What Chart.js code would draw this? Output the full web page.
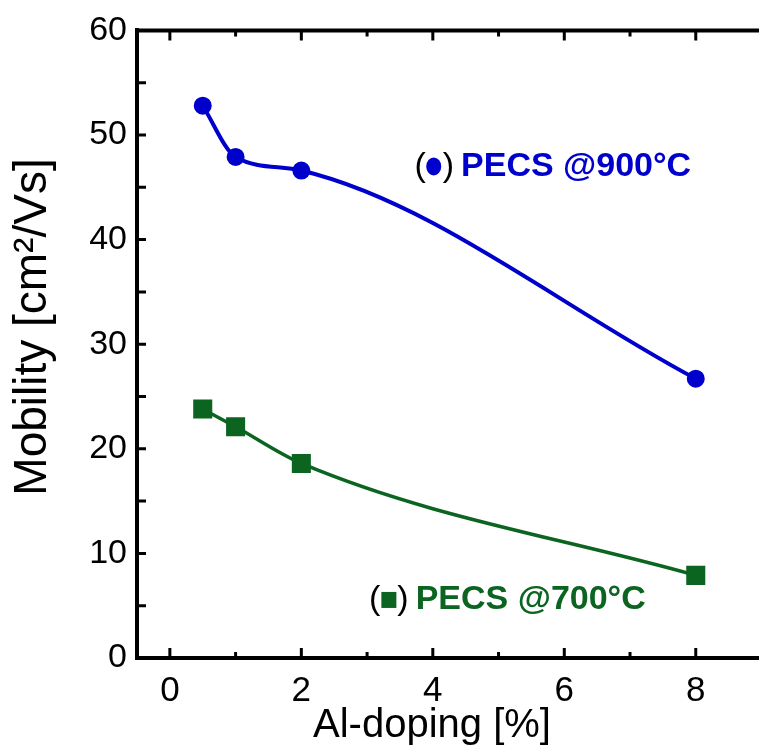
<!DOCTYPE html>
<html>
<head>
<meta charset="utf-8">
<script src="https://cdn.jsdelivr.net/npm/chart.js@4.4.1/dist/chart.umd.min.js"></script>
<style>
  html, body { margin: 0; padding: 0; background: #fff; overflow: hidden; }
  canvas { display: block; }
</style>
</head>
<body>
<canvas id="mobChart" width="776" height="755"></canvas>
<script>
// Al-doping [%]
var doping = [0.5, 1, 2, 8];
// mobility values
var pecs900 = [52.8, 47.9, 46.6, 26.7];
var pecs700 = [23.8, 22.1, 18.6, 7.9];
var xTickLabels = [0, 2, 4, 6, 8];
var yTickLabels = [0, 10, 20, 30, 40, 50, 60];

var blue = '#0000cc';
var green = '#0b6420';
var fontFam = '"Liberation Sans", Arial, sans-serif';

function toPoints(xs, ys) {
  return xs.map(function (v, i) { return { x: v, y: ys[i] }; });
}

// inward ticks + top frame line
var frameTicks = {
  id: 'frameTicks',
  afterDraw: function (chart) {
    var ctx = chart.ctx, a = chart.chartArea, sx = chart.scales.x, sy = chart.scales.y;
    ctx.save();
    ctx.strokeStyle = '#000';
    ctx.lineWidth = 4;
    ctx.beginPath();
    ctx.moveTo(a.left - 2, a.top);
    ctx.lineTo(a.right + 2, a.top);
    ctx.stroke();
    ctx.lineWidth = 3;
    ctx.beginPath();
    sx.ticks.forEach(function (t) {
      if (t.value <= sx.min || t.value >= sx.max) return;
      var px = sx.getPixelForValue(t.value);
      var len = t.value % 2 === 0 ? 10 : 6;
      ctx.moveTo(px, a.bottom); ctx.lineTo(px, a.bottom - len);
      ctx.moveTo(px, a.top); ctx.lineTo(px, a.top + len);
    });
    sy.ticks.forEach(function (t) {
      if (t.value <= sy.min || t.value >= sy.max) return;
      var py = sy.getPixelForValue(t.value);
      ctx.moveTo(a.left, py); ctx.lineTo(a.left + 9, py);
    });
    ctx.stroke();

    // axis titles (placed like the original figure, not centred on the axes)
    ctx.fillStyle = '#000';
    ctx.textAlign = 'center';
    ctx.textBaseline = 'alphabetic';
    ctx.font = '40px ' + fontFam;
    ctx.fillText('Al-doping [%]', 432, 737);
    ctx.translate(46, 327);
    ctx.rotate(-Math.PI / 2);
    ctx.font = '46px ' + fontFam;
    ctx.fillText('Mobility [cm²/Vs]', 0, 0);
    ctx.restore();
  }
};

// "(marker) PECS @...°C" labels inside the plot
var seriesLabels = {
  id: 'seriesLabels',
  afterDatasetsDraw: function (chart) {
    var ctx = chart.ctx, sx = chart.scales.x, sy = chart.scales.y;
    var items = [
      { x: 3.72, y: 47.0, text: 'PECS @900°C', color: blue, shape: 'circle' },
      { x: 3.03, y: 5.55, text: 'PECS @700°C', color: green, shape: 'rect' }
    ];
    ctx.save();
    ctx.textBaseline = 'middle';
    items.forEach(function (it) {
      var px = sx.getPixelForValue(it.x);
      var py = sy.getPixelForValue(it.y);
      ctx.fillStyle = '#000';
      ctx.font = '34px ' + fontFam;
      ctx.fillText('(', px, py);
      var w = ctx.measureText('(').width;
      ctx.fillStyle = it.color;
      if (it.shape === 'circle') {
        ctx.beginPath();
        ctx.ellipse(px + w + 8, py, 7.5, 9, 0, 0, Math.PI * 2);
        ctx.fill();
      } else {
        ctx.fillRect(px + w + 1, py - 8, 15, 16);
      }
      ctx.fillStyle = '#000';
      ctx.fillText(')', px + w + 17, py);
      ctx.fillStyle = it.color;
      ctx.font = 'bold 34px ' + fontFam;
      ctx.fillText(it.text, px + 2 * w + 24, py);
    });
    ctx.restore();
  }
};

new Chart(document.getElementById('mobChart').getContext('2d'), {
  type: 'line',
  data: {
    datasets: [
      {
        label: 'PECS @900°C',
        data: toPoints(doping, pecs900),
        borderColor: blue,
        backgroundColor: blue,
        borderWidth: 4,
        pointRadius: 7,
        pointStyle: 'circle',
        cubicInterpolationMode: 'monotone',
        fill: false
      },
      {
        label: 'PECS @700°C',
        data: toPoints(doping, pecs700),
        borderColor: green,
        backgroundColor: green,
        borderWidth: 3.5,
        pointRadius: 11,
        pointStyle: 'rect',
        cubicInterpolationMode: 'monotone',
        fill: false
      }
    ]
  },
  options: {
    responsive: false,
    animation: false,
    layout: { padding: { top: 30, right: 0, left: 0, bottom: 0 } },
    plugins: { legend: { display: false }, tooltip: { enabled: false } },
    scales: {
      x: {
        type: 'linear',
        min: -0.5,
        max: 9,
        afterFit: function (s) { s.height = 97; },
        grid: { display: false, drawTicks: false },
        border: { display: true, color: '#000', width: 4 },
        ticks: {
          stepSize: 1,
          includeBounds: false,
          padding: 12,
          color: '#000',
          font: { family: fontFam, size: 35 },
          maxRotation: 0,
          autoSkip: false,
          callback: function (v) { return xTickLabels.indexOf(v) >= 0 ? String(v) : ''; }
        }
      },
      y: {
        min: 0,
        max: 60,
        afterFit: function (s) { s.width = 137; },
        grid: { display: false, drawTicks: false },
        border: { display: true, color: '#000', width: 4 },
        ticks: {
          stepSize: 5,
          padding: 10,
          color: '#000',
          font: { family: fontFam, size: 34 },
          autoSkip: false,
          callback: function (v) { return yTickLabels.indexOf(v) >= 0 ? String(v) : ''; }
        }
      }
    }
  },
  plugins: [frameTicks, seriesLabels]
});
</script>
</body>
</html>
